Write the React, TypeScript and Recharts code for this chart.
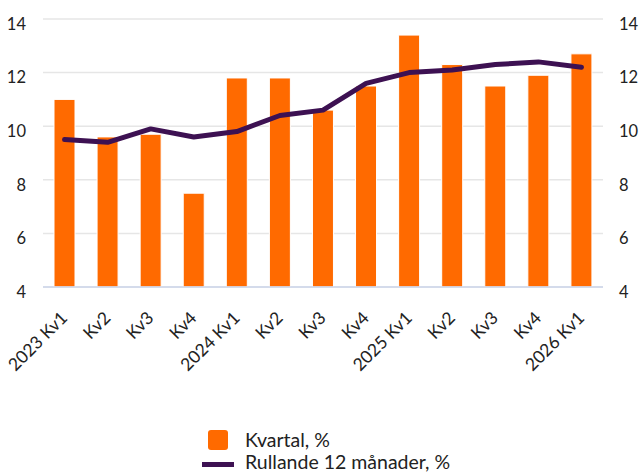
import React from "react";
import {
  ComposedChart,
  Bar,
  Line,
  XAxis,
  YAxis,
  CartesianGrid,
  Legend,
} from "recharts";

const categories = [
  "2023 Kv1", "Kv2", "Kv3", "Kv4",
  "2024 Kv1", "Kv2", "Kv3", "Kv4",
  "2025 Kv1", "Kv2", "Kv3", "Kv4",
  "2026 Kv1",
];
const kvartal = [11.0, 9.6, 9.7, 7.5, 11.8, 11.8, 10.6, 11.5, 13.4, 12.3, 11.5, 11.9, 12.7];
const rullande = [9.5, 9.4, 9.9, 9.6, 9.8, 10.4, 10.6, 11.6, 12.0, 12.1, 12.3, 12.4, 12.2];
const yTicks = [4, 6, 8, 10, 12, 14];

const data = categories.map((c, i) => ({
  idx: i,
  cat: c,
  kvartal: kvartal[i],
  rullande: rullande[i],
}));

const FONT = "Lato, 'Open Sans', sans-serif";
const TEXT = "#222222";
const ORANGE = "#ff6a00";
const PURPLE = "#3d1152";

const XTick = (props: any) => {
  const { x, y, payload } = props;
  const ax = x + 4;
  const ay = y + 24;
  return (
    <text
      x={ax}
      y={ay}
      transform={`rotate(-45 ${ax} ${ay})`}
      textAnchor="end"
      fontFamily={FONT}
      fontSize={17.5}
      fill={TEXT}
    >
      {categories[payload.value]}
    </text>
  );
};

const LeftTick = (props: any) => {
  const { y, payload } = props;
  return (
    <text x={26} y={y + 5} dy="0.35em" textAnchor="end" fontFamily={FONT} fontSize={16.5} fill={TEXT}>
      {payload.value}
    </text>
  );
};

const RightTick = (props: any) => {
  const { y, payload } = props;
  return (
    <text x={619} y={y + 5} dy="0.35em" textAnchor="start" fontFamily={FONT} fontSize={16.5} fill={TEXT}>
      {payload.value}
    </text>
  );
};

const LegendContent = () => (
  <div style={{ position: "relative", width: 640, height: 60, fontFamily: FONT, fontSize: 19.5, color: TEXT }}>
    <div style={{ position: "absolute", left: 208, top: 18, width: 20, height: 20, background: ORANGE, borderRadius: 3 }} />
    <div style={{ position: "absolute", left: 245, top: 17, lineHeight: "22px", whiteSpace: "nowrap" }}>Kvartal, %</div>
    <div style={{ position: "absolute", left: 202, top: 50, width: 32, height: 5, background: PURPLE }} />
    <div style={{ position: "absolute", left: 245, top: 39, lineHeight: "22px", whiteSpace: "nowrap" }}>Rullande 12 månader, %</div>
  </div>
);

export default function App() {
  return (
    <div style={{ position: "absolute", left: 0, top: 0, width: 640, height: 472, background: "#fff" }}>
      <ComposedChart
        width={640}
        height={472}
        data={data}
        margin={{ top: 19, right: 0, left: 0, bottom: 0 }}
        barCategoryGap={0}
      >
        <CartesianGrid vertical={false} stroke="#e6e6e6" strokeWidth={1.5} yAxisId="left" />
        <XAxis
          dataKey="idx"
          type="category"
          height={125}
          tick={<XTick />}
          tickLine={false}
          axisLine={{ stroke: "#ccd6eb", strokeWidth: 1.5 }}
          interval={0}
        />
        <YAxis
          yAxisId="left"
          orientation="left"
          width={43}
          domain={[4, 14]}
          ticks={yTicks}
          allowDataOverflow
          axisLine={false}
          tickLine={false}
          tick={<LeftTick />}
        />
        <YAxis
          yAxisId="right"
          orientation="right"
          width={37}
          domain={[4, 14]}
          ticks={yTicks}
          allowDataOverflow
          axisLine={false}
          tickLine={false}
          tick={<RightTick />}
        />
        <Bar
          yAxisId="left"
          dataKey="kvartal"
          fill={ORANGE}
          stroke="#ffffff"
          strokeWidth={1}
          barSize={21}
          isAnimationActive={false}
        />
        <Line
          yAxisId="left"
          dataKey="rullande"
          stroke={PURPLE}
          strokeWidth={5}
          strokeLinecap="round"
          strokeLinejoin="round"
          dot={false}
          activeDot={false}
          isAnimationActive={false}
        />
        <Legend
          verticalAlign="bottom"
          height={60}
          content={<LegendContent />}
          wrapperStyle={{ left: 0, width: 640 }}
        />
      </ComposedChart>
    </div>
  );
}
